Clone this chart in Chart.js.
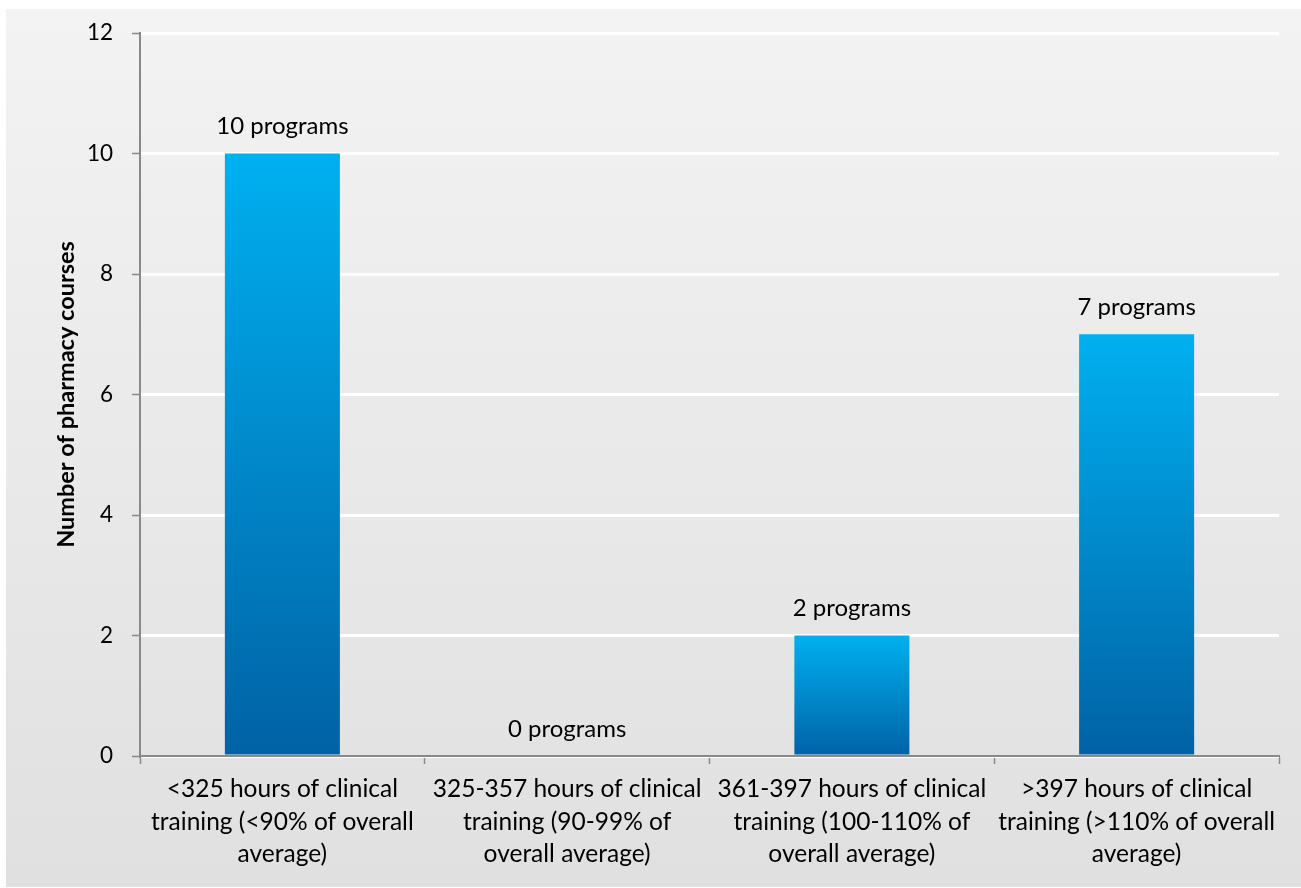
<!DOCTYPE html>
<html>
<head>
<meta charset="utf-8">
<title>Clinical training hours</title>
<script src="https://cdn.jsdelivr.net/npm/chart.js@4/dist/chart.umd.min.js"></script>
<style>
  html, body { margin: 0; padding: 0; background: #ffffff; }
  canvas { display: block; }
</style>
</head>
<body>
<canvas id="chart" width="1301" height="888"></canvas>
<script>
// Categories (one label per bar, split into lines)
const categories = [
  ["<325 hours of clinical", "training (<90% of overall", "average)"],
  ["325-357 hours of clinical", "training (90-99% of", "overall average)"],
  ["361-397 hours of clinical", "training (100-110% of", "overall average)"],
  [">397 hours of clinical", "training (>110% of overall", "average)"]
];
// Number of programs in each band
const programCounts = [10, 0, 2, 7];
const valueSuffix = " programs";
const yAxisTitle = "Number of pharmacy courses";
const yTicks = { min: 0, max: 12, step: 2 };

const FONT = "Lato, 'Open Sans', sans-serif";
const AXIS_GREY = "#898989";

// Light grey panel behind the whole chart
const panelBackground = {
  id: "panelBackground",
  beforeDraw(chart) {
    const ctx = chart.ctx;
    const g = ctx.createLinearGradient(0, 9, 0, 887);
    g.addColorStop(0, "#f3f3f3");
    g.addColorStop(1, "#e0e0e0");
    ctx.save();
    ctx.fillStyle = g;
    ctx.fillRect(6, 9, chart.width - 6, 878);
    ctx.restore();
  }
};

// "N programs" text above every bar
const valueLabels = {
  id: "valueLabels",
  afterDatasetsDraw(chart) {
    const ctx = chart.ctx;
    const meta = chart.getDatasetMeta(0);
    const values = chart.data.datasets[0].data;
    ctx.save();
    ctx.font = "24px " + FONT;
    ctx.fillStyle = "#000000";
    ctx.textAlign = "center";
    ctx.textBaseline = "middle";
    meta.data.forEach((bar, i) => {
      ctx.fillText(values[i] + valueSuffix, bar.x, bar.y - 27);
    });
    ctx.restore();
  }
};

function barGradient(c) {
  const chart = c.chart;
  if (!chart.chartArea || c.type !== "data") return "#0090d0";
  const ys = chart.scales.y;
  const top = ys.getPixelForValue(c.raw);
  const base = ys.getPixelForValue(0);
  if (!(base - top > 0)) return "#00b0f0";
  const g = chart.ctx.createLinearGradient(0, top, 0, base);
  g.addColorStop(0, "#00b0f0");
  g.addColorStop(1, "#0062a5");
  return g;
}

new Chart(document.getElementById("chart"), {
  type: "bar",
  data: {
    labels: categories,
    datasets: [{
      data: programCounts,
      backgroundColor: barGradient,
      borderWidth: 0,
      categoryPercentage: 1.0,
      barPercentage: 0.404
    }]
  },
  options: {
    responsive: false,
    animation: false,
    layout: { padding: { top: 33, right: 22, left: 0, bottom: 0 } },
    plugins: {
      legend: { display: false },
      tooltip: { enabled: false }
    },
    scales: {
      x: {
        offset: true,
        grid: {
          offset: true,
          drawOnChartArea: false,
          drawTicks: true,
          tickLength: 8,
          tickColor: AXIS_GREY,
          tickWidth: 1.5
        },
        border: { display: true, color: AXIS_GREY, width: 2 },
        ticks: {
          color: "#000000",
          font: { family: FONT, size: 24.5, lineHeight: 1.33 },
          padding: 9,
          maxRotation: 0,
          autoSkip: false
        },
        afterFit(scale) { scale.height = 132; }
      },
      y: {
        min: yTicks.min,
        max: yTicks.max,
        grid: {
          color: "#ffffff",
          lineWidth: 3,
          drawTicks: true,
          tickLength: 8,
          tickColor: AXIS_GREY,
          tickWidth: 1.5
        },
        border: { display: true, color: AXIS_GREY, width: 2 },
        ticks: {
          stepSize: yTicks.step,
          color: "#000000",
          font: { family: FONT, size: 22.5 },
          padding: 19
        },
        title: {
          display: true,
          text: yAxisTitle,
          color: "#000000",
          font: { family: FONT, size: 23.5, weight: "bold", lineHeight: 1.2 },
          padding: { top: 52, bottom: 0 }
        },
        afterFit(scale) { scale.width = 140; }
      }
    }
  },
  plugins: [panelBackground, valueLabels]
});
</script>
</body>
</html>
